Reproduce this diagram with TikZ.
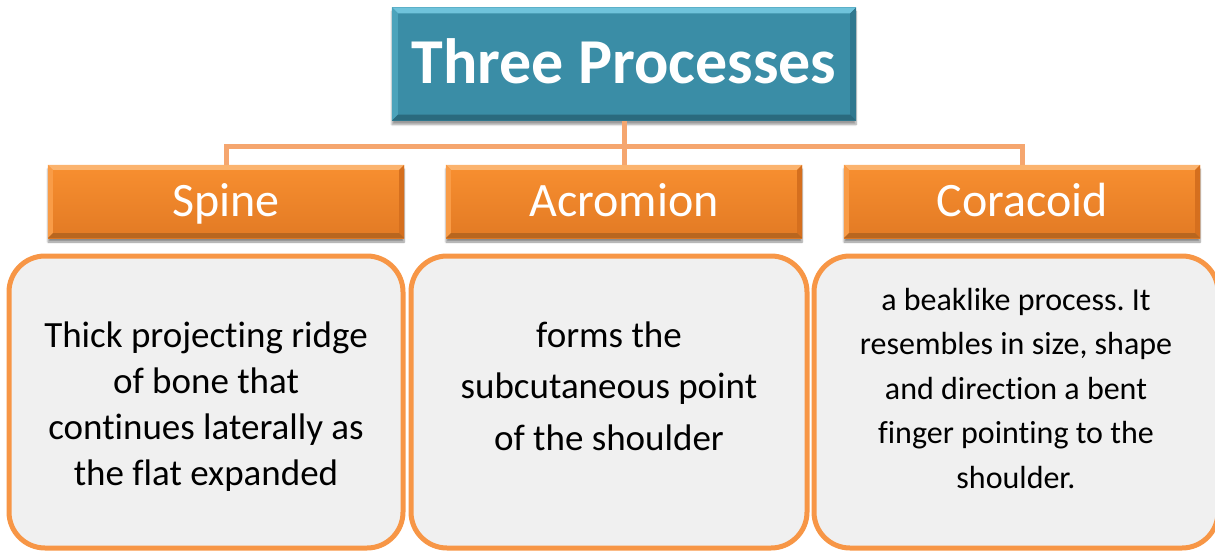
\documentclass[tikz,border=0pt]{standalone}
\usepackage{fontspec}
\setmainfont[Ligatures=NoCommon]{Carlito}
\usetikzlibrary{shadows.blur}
\definecolor{teal0}{HTML}{3A8DA6}
\definecolor{tealtop}{HTML}{6FC3DB}
\definecolor{tealleft}{HTML}{4CA3BB}
\definecolor{tealright}{HTML}{30788F}
\definecolor{tealbot}{HTML}{2A6A7E}
\definecolor{oratopfill}{HTML}{F88F30}
\definecolor{orabotfill}{HTML}{E27A24}
\definecolor{oratop}{HTML}{FBB36E}
\definecolor{oraleft}{HTML}{F99C47}
\definecolor{oraright}{HTML}{D56F1E}
\definecolor{orabot}{HTML}{B8661F}
\definecolor{conncol}{HTML}{F5A66F}
\definecolor{boxline}{HTML}{F79646}
\definecolor{boxfill}{HTML}{F0F0F0}
\tikzset{
  titlebox/.style={rectangle, minimum width=464pt, minimum height=113pt, inner sep=0pt,
    fill=teal0, blur shadow={shadow xshift=0pt, shadow yshift=-4pt, shadow blur steps=6, shadow opacity=40}},
  headbox/.style={rectangle, minimum width=356pt, minimum height=73pt, inner sep=0pt,
    top color=oratopfill, bottom color=orabotfill,
    blur shadow={shadow xshift=0pt, shadow yshift=-4pt, shadow blur steps=6, shadow opacity=45}},
  titletext/.style={text=white, font=\bfseries\fontsize{64}{70}\selectfont, inner sep=0pt},
  headtext/.style={text=white, font=\fontsize{48}{50}\selectfont, inner sep=0pt},
  textbox/.style={rectangle, rounded corners=36pt, draw=boxline, line width=5pt, fill=boxfill, inner sep=0pt},
  bodytext/.style={align=center, font=\fontsize{37}{45.7}\selectfont, text=black, inner sep=0pt},
  widetext/.style={align=center, font=\fontsize{37}{51.5}\selectfont, text=black, inner sep=0pt},
  smalltext/.style={align=center, font=\fontsize{32}{44.5}\selectfont, text=black, inner sep=0pt},
  conn/.style={draw=conncol, line width=5pt}
}
\frenchspacing
\begin{document}
\begin{tikzpicture}[x=1pt,y=-1pt]
\useasboundingbox (0,0) rectangle (1215,551);
\begin{scope}
\clip (0,0) rectangle (1215,551);
% header boxes and connectors
\coordinate (bus) at (0,146);
\node[headbox] (spine) at (226,201.5) {};
\node[headbox] (acro) at (624,201.5) {};
\node[headbox] (cora) at (1022,201.5) {};
\draw[conn] (spine.north) -- (spine.north |- bus) -- (cora.north |- bus) -- (cora.north);
% title
\node[titlebox] (title) at (624,64) {};
\draw[conn] (title.south) -- (acro.north);
\foreach \n/\t/\l/\r/\b in {title/tealtop/tealleft/tealright/tealbot}{
  \fill[\t] (\n.north west) -- (\n.north east) -- ([shift={(-6,6)}]\n.north east) -- ([shift={(6,6)}]\n.north west) -- cycle;
  \fill[\l] (\n.north west) -- ([shift={(6,6)}]\n.north west) -- ([shift={(6,-6)}]\n.south west) -- (\n.south west) -- cycle;
  \fill[\r] (\n.north east) -- ([shift={(-6,6)}]\n.north east) -- ([shift={(-6,-6)}]\n.south east) -- (\n.south east) -- cycle;
  \fill[\b] (\n.south west) -- ([shift={(6,-6)}]\n.south west) -- ([shift={(-6,-6)}]\n.south east) -- (\n.south east) -- cycle;
}
\foreach \n in {spine,acro,cora}{
  \fill[oratop] (\n.north west) -- (\n.north east) -- ([shift={(-5,5)}]\n.north east) -- ([shift={(5,5)}]\n.north west) -- cycle;
  \fill[oraleft] (\n.north west) -- ([shift={(5,5)}]\n.north west) -- ([shift={(5,-5)}]\n.south west) -- (\n.south west) -- cycle;
  \fill[oraright] (\n.north east) -- ([shift={(-5,5)}]\n.north east) -- ([shift={(-5,-5)}]\n.south east) -- (\n.south east) -- cycle;
  \fill[orabot] (\n.south west) -- ([shift={(5,-5)}]\n.south west) -- ([shift={(-5,-5)}]\n.south east) -- (\n.south east) -- cycle;
}
\node[titletext, anchor=base] (titlet) at (624,83) {Three Processes};
\node[headtext, anchor=base] (spinet) at (226,216) {Spine};
\node[headtext, anchor=base] (acrot) at (624,216) {Acromion};
\node[headtext, anchor=base] (corat) at (1022,216) {Coracoid};
% text boxes
\node[textbox, minimum width=394pt, minimum height=292pt] (b1) at (206,402) {};
\node[textbox, minimum width=396pt, minimum height=292pt] (b2) at (609,402) {};
\node[textbox, minimum width=404pt, minimum height=292pt] (b3) at (1016,402) {};
\node[bodytext, anchor=base] (t1) at (206,485) {Thick projecting ridge\\of bone that\\continues laterally as\\the flat expanded};
\node[widetext, anchor=base] (t2) at (609,450) {forms the\\subcutaneous point\\of the shoulder};
\node[smalltext, anchor=base] (t3) at (1016,488) {a beaklike process. It\\resembles in size, shape\\and direction a bent\\finger pointing to the\\shoulder.};
\end{scope}
\end{tikzpicture}
\end{document}
